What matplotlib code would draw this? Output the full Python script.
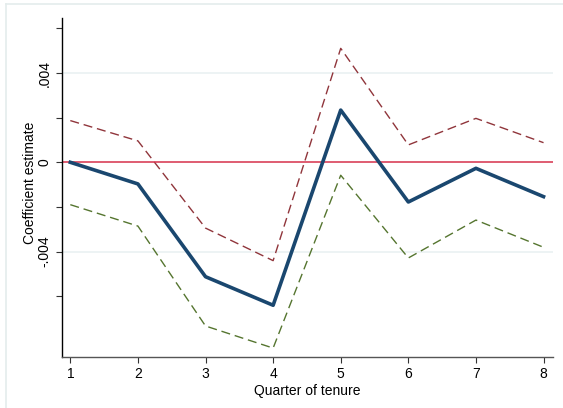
import matplotlib
matplotlib.use('Agg')
import matplotlib.pyplot as plt
from matplotlib.lines import Line2D

quarters = [1, 2, 3, 4, 5, 6, 7, 8]
coef = [0.0, -0.00097, -0.00513, -0.00641, 0.00234, -0.00178, -0.00027, -0.00154]
upper = [0.00187, 0.00096, -0.00295, -0.00441, 0.00511, 0.00078, 0.00197, 0.00088]
lower = [-0.00190, -0.00286, -0.00734, -0.00833, -0.00058, -0.00429, -0.00259, -0.00381]

ytick_vals = [-0.006, -0.004, -0.002, 0, 0.002, 0.004, 0.006]
ytick_labels = ['', '-.004', '', '0', '', '.004', '']

plt.rcParams['font.family'] = ['Liberation Sans', 'DejaVu Sans']

fig = plt.figure(figsize=(5.63, 4.08), dpi=100)
fig.patch.set_facecolor('white')
ax = fig.add_axes([62/563, 51/408, 491/563, 339/408])

# light outer frame (stata graph region)
fig.add_artist(Line2D([6/563, 1], [1 - 4/408, 1 - 4/408], transform=fig.transFigure,
                      color='#e4ecec', lw=1.2))
fig.add_artist(Line2D([6/563, 6/563], [0, 1 - 4/408], transform=fig.transFigure,
                      color='#e4ecec', lw=1.2))

for g in [-0.004, 0.004]:
    ax.axhline(g, color='#eaf1f2', lw=1.2, zorder=0)

ax.plot(quarters, upper, color='#90353b', lw=1.0, dashes=(6.5, 3.5))
ax.plot(quarters, lower, color='#55752f', lw=1.0, dashes=(6.5, 3.5))
ax.axhline(0, color='#d6304a', lw=1.1, zorder=2)
ax.plot(quarters, coef, color='#1a476f', lw=2.6, zorder=3)

ax.set_xlim(0.877, 8.14)
ax.set_ylim(-0.00873, 0.00647)
ax.set_xticks(quarters)
ax.set_yticks(ytick_vals)
ax.set_yticklabels(ytick_labels, rotation=90, va='center')
ax.tick_params(axis='both', labelsize=10, length=4.5, width=0.8, color='#333333', pad=3)

for s in ['top', 'right']:
    ax.spines[s].set_visible(False)
ax.spines['left'].set_color('black')
ax.spines['bottom'].set_color('#555555')
ax.spines['left'].set_linewidth(1.0)
ax.spines['bottom'].set_linewidth(1.0)

ax.set_xlabel('Quarter of tenure', fontsize=10, labelpad=2)
ax.set_ylabel('Coefficient estimate', fontsize=10)
ax.yaxis.set_label_coords(-0.05, 0.515)

fig.savefig('out.png', dpi=100)
